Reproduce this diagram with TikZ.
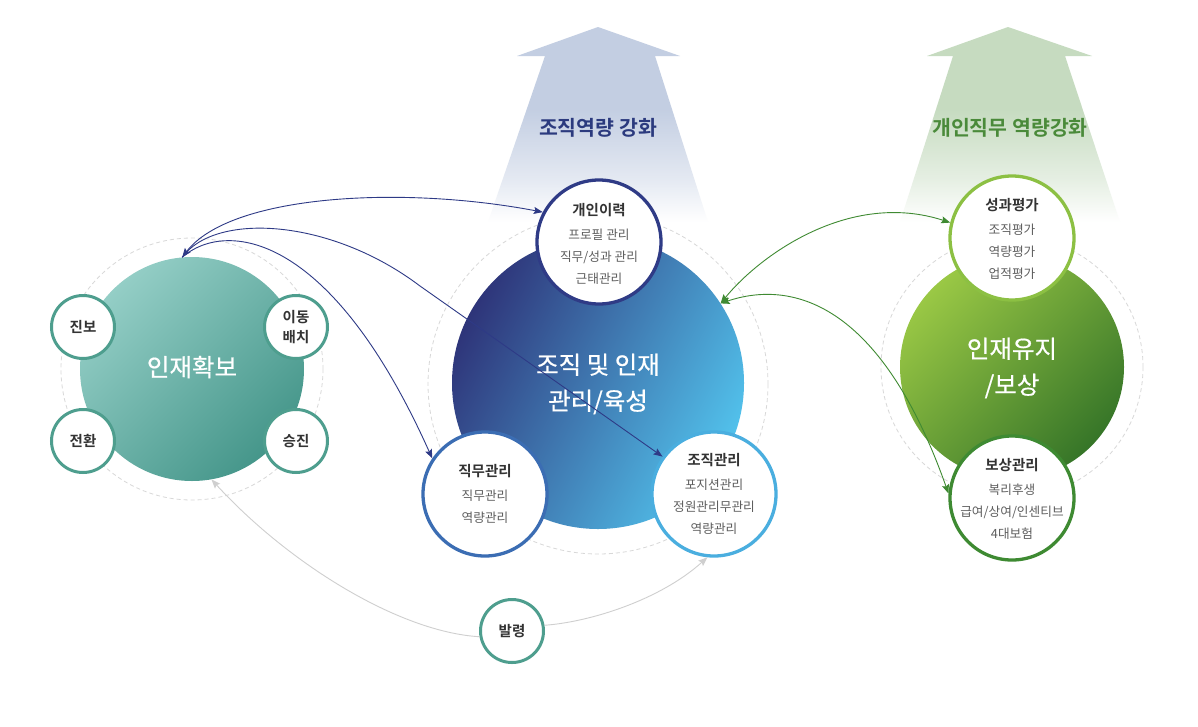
\documentclass[tikz,border=0pt]{standalone}
\usepackage{fontspec}
\setmainfont{Noto Sans CJK KR}[BoldFont={Noto Sans CJK KR Bold}]
\newfontfamily\medkr{Noto Sans CJK KR}[FakeBold=0.6]
\usetikzlibrary{arrows.meta}
\definecolor{arrowblue}{HTML}{C3CEE2}
\definecolor{arrowgreen}{HTML}{C6DBC0}
\definecolor{ringgray}{HTML}{D8D8D8}
\definecolor{tealL}{HTML}{94CEC6}
\definecolor{tealD}{HTML}{45968A}
\definecolor{tealB}{HTML}{4E9E8E}
\definecolor{navyL}{HTML}{2E3479}
\definecolor{blueR}{HTML}{52C2EC}
\definecolor{greenL}{HTML}{9AC845}
\definecolor{greenD}{HTML}{367528}
\definecolor{bP}{HTML}{2F3B86}
\definecolor{bJ}{HTML}{3B6DB3}
\definecolor{bO}{HTML}{4AAEDF}
\definecolor{bS}{HTML}{8CC043}
\definecolor{bB}{HTML}{3E8A32}
\definecolor{navyline}{HTML}{2E3A86}
\definecolor{greenline}{HTML}{3F8A32}
\definecolor{grayline}{HTML}{CFCFCF}
\definecolor{navytext}{HTML}{2B3A7E}
\definecolor{greentext}{HTML}{4A8A3A}
\definecolor{ttlc}{HTML}{333333}
\definecolor{itemc}{HTML}{5E5E5E}
\pgfdeclareverticalshading{bluefade}{100bp}{color(0bp)=(white); color(25bp)=(white); color(36bp)=(arrowblue!45); color(54bp)=(arrowblue); color(100bp)=(arrowblue)}
\pgfdeclareverticalshading{greenfade}{100bp}{color(0bp)=(white); color(25bp)=(white); color(36bp)=(arrowgreen!45); color(54bp)=(arrowgreen); color(100bp)=(arrowgreen)}
\newcommand\ttl[1]{{\fontsize{14.5}{22}\selectfont\bfseries\color{ttlc}#1}}
\begin{document}
\begin{tikzpicture}[x=1pt,y=-1pt,
  >={Stealth[length=9pt,width=7pt,inset=1.5pt]},
  ring/.style={draw=ringgray, line width=0.8pt, dash pattern=on 4pt off 3pt},
  bigcirc/.style={circle, inner sep=0pt},
  bigtext/.style={text=white, align=center, font=\medkr\fontsize{24.5}{36}\selectfont},
  smallc/.style={circle, fill=white, draw=tealB, line width=3pt, minimum size=63pt, inner sep=0pt, align=center, text=ttlc, font=\fontsize{14.5}{20}\selectfont\bfseries},
  subc/.style={circle, fill=white, line width=3.3pt, minimum size=124pt, inner sep=0pt},
  subtext/.style={align=center, text=itemc, font=\fontsize{12.7}{22}\selectfont},
  navyarrow/.style={draw=navyline, line width=0.9pt},
  greenarrow/.style={draw=greenline, line width=0.9pt},
  grayarrow/.style={draw=grayline, line width=0.9pt}]
\useasboundingbox (0,0) rectangle (1198,726);
\fill[white] (0,0) rectangle (1198,726);
% background arrows
\shade[shading=bluefade] (598,27) -- (680,56) -- (655,56) -- (708,222) -- (488,222) -- (545,56) -- (517,56) -- cycle;
\shade[shading=greenfade] (1008,27) -- (1092,56) -- (1065,56) -- (1120,222) -- (900,222) -- (953,56) -- (927,56) -- cycle;
\node[text=navytext, font=\fontsize{20.5}{22}\selectfont\bfseries] (t1) at (598,128) {조직역량 강화};
\node[text=greentext, font=\fontsize{20.5}{22}\selectfont\bfseries] (t2) at (1010,128) {개인직무 역량강화};
% dashed rings
\draw[ring] (192,369) circle (131pt);
\draw[ring] (598,384) circle (170pt);
\draw[ring] (1012,367) circle (131pt);
% big circles
\node[bigcirc, minimum size=224pt, left color=tealL, right color=tealD, shading angle=45] (L) at (192,369) {};
\node[bigcirc, minimum size=292pt, left color=navyL, right color=blueR, shading angle=62] (M) at (598,383) {};
\node[bigcirc, minimum size=224pt, left color=greenL, right color=greenD, shading angle=45] (G) at (1012,367) {};
\node[bigtext] (Ltext) at (192,367) {인재확보};
\node[bigtext] (Mtext) at (598,384) {조직 및 인재\\관리/육성};
\node[bigtext] (Gtext) at (1012,368) {인재유지\\/보상};
% small circles around left
\node[smallc] (jinbo) at (83,327) {진보};
\node[smallc] (idong) at (296,327) {이동\\배치};
\node[smallc] (jeonhwan) at (83,441) {전환};
\node[smallc] (seungjin) at (296,441) {승진};
\node[smallc] (R) at (512,631) {발령};
% sub circles
\node[subc, draw=bP] (P) at (599,242) {};
\node[subc, draw=bJ] (J) at (485,494) {};
\node[subc, draw=bO] (O) at (714,494) {};
\node[subc, draw=bS] (S) at (1012,238) {};
\node[subc, draw=bB] (B) at (1012,498) {};
\node[subtext] (Ptext) at (599,244) {\ttl{개인이력}\\[1.5pt]프로필 관리\\직무/성과 관리\\근태관리};
\node[subtext] (Jtext) at (485,494) {\ttl{직무관리}\\[1.5pt]직무관리\\역량관리};
\node[subtext] (Otext) at (714,494) {\ttl{조직관리}\\[1.5pt]포지션관리\\정원관리무관리\\역량관리};
\node[subtext] (Stext) at (1012,239) {\ttl{성과평가}\\[1.5pt]조직평가\\역량평가\\업적평가};
\node[subtext] (Btext) at (1012,499) {\ttl{보상관리}\\[1.5pt]복리후생\\급여/상여/인센티브\\4대보험};
% connectors
\draw[navyarrow, <->] (L.95) .. controls (230,195) and (400,185) .. (P.152);
\draw[navyarrow, ->] (L.95) .. controls (215,212) and (330,218) .. (420,286) -- (O.144);
\draw[navyarrow, ->] (L.95) .. controls (225,220) and (330,230) .. (J.146);
\draw[greenarrow, <->] (M.33) .. controls (760,255) and (850,190) .. (S.166);
\draw[greenarrow, <->] (M.33) .. controls (790,280) and (880,300) .. (B.176);
\draw[grayarrow, ->] (R.190) .. controls (400,632) and (290,565) .. (L.-80);
\draw[grayarrow, ->] (R.10) .. controls (590,622) and (660,600) .. (O.-96);
\end{tikzpicture}
\end{document}
